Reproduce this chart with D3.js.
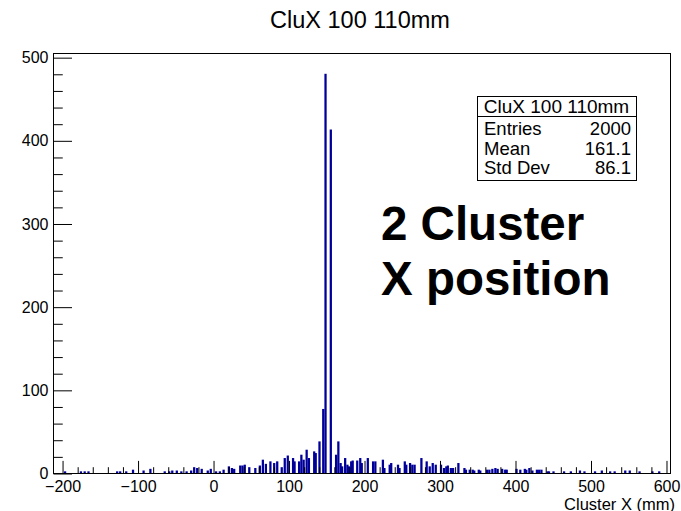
<!DOCTYPE html>
<html>
<head>
<meta charset="utf-8">
<script src="https://cdn.jsdelivr.net/npm/d3@7"></script>
<style>
  html, body { margin: 0; padding: 0; background: #fff; }
  svg { display: block; font-family: "Liberation Sans", Arial, Helvetica, sans-serif; }
</style>
</head>
<body>
<svg id="chart" width="681" height="511"></svg>
<script>
// Histogram of reconstructed cluster X positions (bin centre in mm, entries)
const binCenters = [
  -196, -175, -170, -165, -127, -123, -115, -106, -92, -83, -64, -58, -54, -48, -42, -35,
  -29, -25, -21, -15, -7, -3, 4, 9,
  14, 21, 25, 28, 36, 39, 42, 48, 56, 62, 66, 70, 76, 81, 85, 91, 95, 99,
  106, 108, 114, 117, 120, 124, 127, 134, 136, 141, 146, 149, 156,
  163, 166, 169, 171, 175, 178, 180, 183, 185, 191, 195, 197,
  205, 212, 215, 225, 227, 234, 236, 245, 247, 254, 256, 261, 264, 267, 276, 283, 287,
  291, 295, 302, 306, 309, 311, 315, 318, 325, 333, 335, 340, 344, 346, 352, 354,
  363, 366, 370, 374, 377, 383, 387, 389, 402, 407, 413, 415, 419, 423, 429, 432, 435,
  443, 445, 451, 465, 474, 486, 492, 506, 515, 526, 532, 546, 552, 565, 582, 591
];
const binCounts = [
  2, 2, 2, 2, 2, 2, 2, 4, 3, 5, 2, 2, 3, 3, 2, 2,
  3, 7, 6, 5, 3, 5, 2, 2,
  4, 8, 6, 5, 9, 9, 10, 7, 6, 9, 16, 11, 14, 12, 14, 7, 18, 21,
  18, 14, 14, 22, 16, 28, 18, 26, 24, 38, 77, 480, 413,
  22, 38, 12, 8, 18, 10, 8, 14, 15, 15, 18, 12,
  18, 14, 14, 16, 6, 10, 12, 10, 6, 14, 10, 12, 10, 10, 18, 14, 8,
  12, 10, 10, 6, 8, 9, 6, 6, 12, 6, 4, 4, 4, 3, 4, 3,
  4, 4, 5, 6, 5, 5, 4, 4, 5, 4, 5, 4, 6, 3, 4, 4, 4,
  2, 2, 2, 2, 2, 3, 2, 2, 3, 2, 2, 3, 3, 2, 2, 2
];
const binWidth = 3;

const xMajorTicks = [-200, -100, 0, 100, 200, 300, 400, 500, 600];
const yMajorTicks = [0, 100, 200, 300, 400, 500];

const histTitle = "CluX 100 110mm";
const xTitle = "Cluster X (mm)";
const statLabels = ["Entries", "Mean", "Std Dev"];
const statValues = ["2000", "161.1", "86.1"];
const noteLines = ["2 Cluster", "X position"];

const svg = d3.select("#chart");
const frame = { left: 53, right: 670, top: 53, bottom: 473 };

const x = d3.scaleLinear().domain([-212, 605.3]).range([frame.left, frame.right]);
const y = d3.scaleLinear().domain([0, 505]).range([frame.bottom, frame.top]);

const xMinor = d3.range(-200, 601, 20).filter(v => xMajorTicks.indexOf(v) < 0);
const yMinor = d3.range(0, 501, 20).filter(v => yMajorTicks.indexOf(v) < 0);

// bars
svg.append("g")
  .selectAll("rect")
  .data(binCenters.map((c, i) => ({ c, n: binCounts[i] })))
  .join("rect")
  .attr("x", d => x(d.c - binWidth / 2))
  .attr("width", d => x(d.c + binWidth / 2) - x(d.c - binWidth / 2))
  .attr("y", d => y(d.n))
  .attr("height", d => y(0) - y(d.n))
  .attr("fill", "#000099");

// frame box
svg.append("rect")
  .attr("x", frame.left + 0.5).attr("y", frame.top + 0.5)
  .attr("width", frame.right - frame.left).attr("height", frame.bottom - frame.top)
  .attr("fill", "none").attr("stroke", "#000").attr("stroke-width", 1);

const majLenX = 12.6, majLenY = 18.5;

// x axis (ticks point into the frame)
const gx = svg.append("g").attr("transform", `translate(0.5,${frame.bottom + 0.5})`);
gx.call(d3.axisBottom(x).tickValues(xMajorTicks).tickSize(-majLenX).tickPadding(7)
  .tickFormat(d3.format("d")));
gx.append("g").call(d3.axisBottom(x).tickValues(xMinor).tickSize(-majLenX / 2).tickFormat(""));
gx.selectAll(".domain").remove();
gx.selectAll("text").attr("font-size", 16).attr("fill", "#000")
  .attr("font-family", "Liberation Sans, Arial, sans-serif");
gx.selectAll("line").attr("stroke", "#000");

// y axis
const gy = svg.append("g").attr("transform", `translate(${frame.left + 0.5},0.5)`);
gy.call(d3.axisLeft(y).tickValues(yMajorTicks).tickSize(-majLenY).tickPadding(5)
  .tickFormat(d3.format("d")));
gy.append("g").call(d3.axisLeft(y).tickValues(yMinor).tickSize(-majLenY / 2).tickFormat(""));
gy.selectAll(".domain").remove();
gy.selectAll("text").attr("font-size", 16).attr("fill", "#000")
  .attr("font-family", "Liberation Sans, Arial, sans-serif");
gy.selectAll("line").attr("stroke", "#000");

// titles
svg.append("text").attr("x", 360).attr("y", 28).attr("text-anchor", "middle")
  .attr("font-size", 23.5).text(histTitle);
svg.append("text").attr("x", 675).attr("y", 509.5).attr("text-anchor", "end")
  .attr("font-size", 16.5).text(xTitle);

// statistics box
const sb = { x: 477.5, y: 96.5, w: 159, h: 84, head: 20 };
const gs = svg.append("g");
gs.append("rect").attr("x", sb.x).attr("y", sb.y).attr("width", sb.w).attr("height", sb.h)
  .attr("fill", "#fff").attr("stroke", "#000");
gs.append("line").attr("x1", sb.x).attr("x2", sb.x + sb.w)
  .attr("y1", sb.y + sb.head).attr("y2", sb.y + sb.head).attr("stroke", "#000");
gs.append("text").attr("x", sb.x + sb.w / 2 - 0.5).attr("y", 113).attr("text-anchor", "middle")
  .attr("font-size", 19).text(histTitle);
statLabels.forEach((s, i) => {
  const by = 135 + i * 19.5;
  gs.append("text").attr("x", 484).attr("y", by).attr("font-size", 18.5).text(s);
  gs.append("text").attr("x", 631).attr("y", by).attr("text-anchor", "end")
    .attr("font-size", 18.5).text(statValues[i]);
});

// annotation
noteLines.forEach((s, i) => {
  svg.append("text").attr("x", 381).attr("y", 240 + i * 55)
    .attr("font-size", 47.5).attr("font-weight", "bold").text(s);
});
</script>
</body>
</html>
